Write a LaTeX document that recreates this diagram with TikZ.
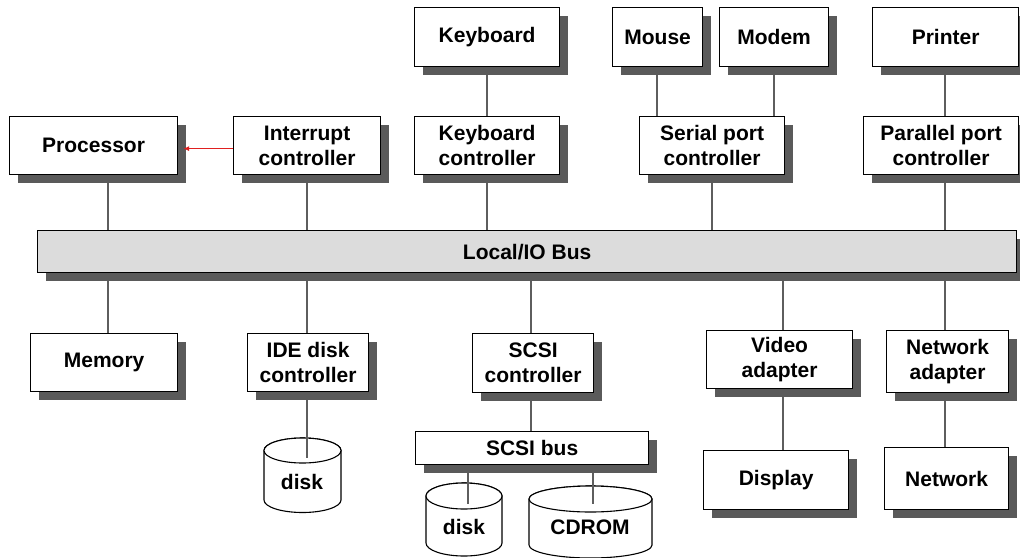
\documentclass[tikz,border=0pt]{standalone}
\usepackage{fontspec}
\setmainfont{Liberation Sans}
\usetikzlibrary{shadows,arrows.meta}
\definecolor{shadowgray}{HTML}{5A5A5A}
\definecolor{busfill}{HTML}{DCDCDC}
\definecolor{linkgray}{HTML}{5E5E5E}
\definecolor{irqred}{HTML}{E02020}
\pgfdeclarelayer{bg}
\pgfsetlayers{bg,main}
\tikzset{
  unit/.style={draw=black, line width=1.2pt, fill=white, align=center,
    inner sep=0pt, anchor=north west,
    font=\fontsize{21}{25}\selectfont\bfseries,
    drop shadow={shadow xshift=8pt, shadow yshift=-8pt, fill=shadowgray, opacity=1}},
  link/.style={draw=linkgray, line width=1.1pt},
  drumbody/.style={draw=black, line width=1.1pt, fill=white},
  drumtext/.style={font=\fontsize{21}{25}\selectfont\bfseries},
  irq/.style={draw=irqred, line width=0.9pt, -{Latex[length=6pt,width=5pt]}},
}
% cylinder body: centre x, top-ellipse y, bottom-ellipse y, x radius, y radius
\newcommand\drumshape[5]{%
  \path[drumbody] (#1-#4,#2) -- (#1-#4,#3)
    arc[start angle=180, end angle=360, x radius=#4pt, y radius=#5pt]
    -- (#1+#4,#2)
    arc[start angle=0, end angle=180, x radius=#4pt, y radius=#5pt] -- cycle;
  \draw[drumbody] (#1,#2) ellipse[x radius=#4pt, y radius=#5pt];}
\begin{document}
\begin{tikzpicture}[x=1pt, y=-1pt]
\useasboundingbox (0,0) rectangle (1020,557);

% ---- devices above the bus
\node[unit, minimum width=168pt, minimum height=58pt] (proc)    at (9,116)   {Processor};
\node[unit, minimum width=147pt, minimum height=58pt] (intr)    at (233,116) {Interrupt\\controller};
\node[unit, minimum width=145pt, minimum height=59pt] (kbd)     at (414,7)   {Keyboard};
\node[unit, minimum width=145pt, minimum height=58pt] (kbdc)    at (414,116) {Keyboard\\controller};
\node[unit, minimum width=90pt,  minimum height=59pt] (mouse)   at (612,7)   {Mouse};
\node[unit, minimum width=109pt, minimum height=59pt] (modem)   at (719,7)   {Modem};
\node[unit, minimum width=145pt, minimum height=58pt] (serc)    at (639,116) {Serial port\\controller};
\node[unit, minimum width=146pt, minimum height=59pt] (printer) at (872,7)   {Printer};
\node[unit, minimum width=155pt, minimum height=58pt] (parc)    at (863,116) {Parallel port\\controller};

% ---- system bus
\node[unit, fill=busfill, minimum width=979pt, minimum height=42pt] (bus) at (37,230) {Local/IO Bus};

% ---- devices below the bus
\node[unit, minimum width=147pt, minimum height=58pt] (mem)     at (30,333)  {Memory};
\node[unit, minimum width=121pt, minimum height=58pt] (ide)     at (247,333) {IDE disk\\controller};
\node[unit, minimum width=121pt, minimum height=59pt] (scsic)   at (472,333) {SCSI\\controller};
\node[unit, minimum width=233pt, minimum height=33pt] (scsibus) at (415,431) {SCSI bus};
\node[unit, minimum width=146pt, minimum height=58pt] (vid)     at (706,330) {Video\\adapter};
\node[unit, minimum width=145pt, minimum height=59pt] (disp)    at (703,450) {Display};
\node[unit, minimum width=122pt, minimum height=62pt] (neta)    at (886,330) {Network\\adapter};
\node[unit, minimum width=124pt, minimum height=62pt] (net)     at (884,447) {Network};

% ---- drive labels
\node[drumtext] (disk1) at (302,482) {disk};
\node[drumtext] (disk2) at (464,527) {disk};
\node[drumtext] (cdrom) at (590,527) {CDROM};

% tap points of the connectors
\coordinate (tProc) at (108,0);
\coordinate (tIntr) at (307,0);
\coordinate (tKbd)  at (487,0);
\coordinate (tMouse) at (657,0);
\coordinate (tModem) at (774,0);
\coordinate (tSer)  at (712,0);
\coordinate (tPar)  at (945,0);
\coordinate (tScsi) at (531,0);
\coordinate (tVid)  at (783,0);
\coordinate (disk1in) at (307,458);
\coordinate (disk2in) at (468,504);
\coordinate (cdromin) at (593,504);

\begin{pgfonlayer}{bg}
  % drive bodies
  \drumshape{302.5}{450.5}{500}{38.5}{12.5}
  \drumshape{464}{496}{543}{38}{13}
  \drumshape{590.5}{499}{545}{61.5}{13}
  % connectors
  \draw[link] (proc.south -| tProc) -- (bus.north -| tProc);
  \draw[link] (intr.south -| tIntr) -- (bus.north -| tIntr);
  \draw[link] (kbd.south -| tKbd) -- (kbdc.north -| tKbd);
  \draw[link] (kbdc.south -| tKbd) -- (bus.north -| tKbd);
  \draw[link] (mouse.south -| tMouse) -- (serc.north -| tMouse);
  \draw[link] (modem.south -| tModem) -- (serc.north -| tModem);
  \draw[link] (serc.south -| tSer) -- (bus.north -| tSer);
  \draw[link] (printer.south -| tPar) -- (parc.north -| tPar);
  \draw[link] (parc.south -| tPar) -- (bus.north -| tPar);
  \draw[link] (bus.south -| tProc) -- (mem.north -| tProc);
  \draw[link] (bus.south -| tIntr) -- (ide.north -| tIntr);
  \draw[link] (bus.south -| tScsi) -- (scsic.north -| tScsi);
  \draw[link] (scsic.south -| tScsi) -- (scsibus.north -| tScsi);
  \draw[link] (bus.south -| tVid) -- (vid.north -| tVid);
  \draw[link] (vid.south -| tVid) -- (disp.north -| tVid);
  \draw[link] (bus.south -| tPar) -- (neta.north -| tPar);
  \draw[link] (neta.south -| tPar) -- (net.north -| tPar);
  \draw[link] (ide.south -| disk1in) -- (disk1in);
  \draw[link] (scsibus.south -| disk2in) -- (disk2in);
  \draw[link] (scsibus.south -| cdromin) -- (cdromin);
\end{pgfonlayer}

% interrupt request line
\draw[irq] ([yshift=-3pt]intr.west) -- ([xshift=5pt,yshift=-3pt]proc.east);
\end{tikzpicture}
\end{document}
